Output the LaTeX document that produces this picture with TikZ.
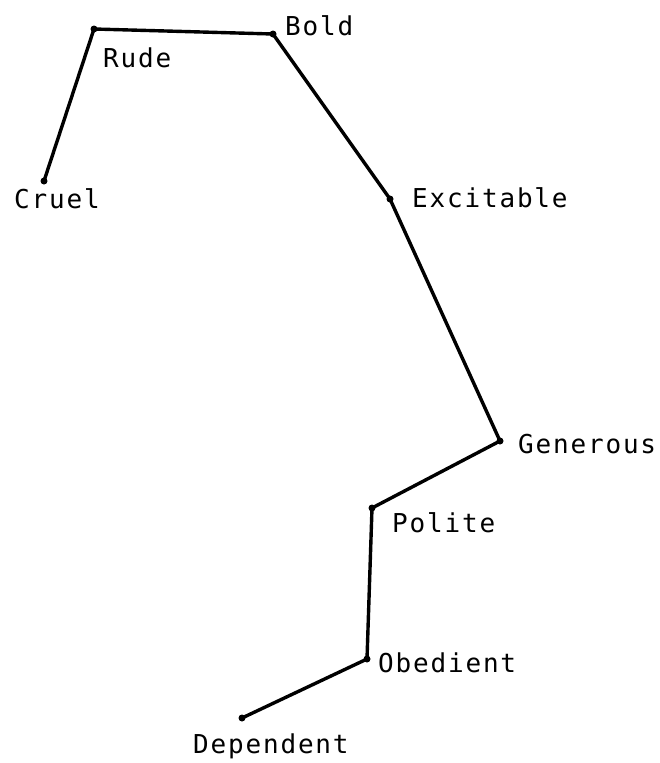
\documentclass[tikz,border=0pt]{standalone}
\usepackage{fontspec}
\newfontfamily\labfont[LetterSpace=7]{DejaVu Sans Mono}
\begin{document}
\begin{tikzpicture}[x=1pt,y=-1pt,
  pt/.style={circle,fill=black,inner sep=0pt,minimum size=7pt},
  lab/.style={anchor=base west,inner sep=0pt,font=\labfont\fontsize{26}{26}\selectfont},
  link/.style={line width=3.4pt,line join=round,line cap=round}]
\useasboundingbox[fill=white] (0,0) rectangle (660,763);
\node[pt] (cruel) at (44,181) {};
\node[pt] (rude) at (94,29) {};
\node[pt] (bold) at (273,34) {};
\node[pt] (excit) at (390,199) {};
\node[pt] (gener) at (500,441) {};
\node[pt] (polite) at (372,508) {};
\node[pt] (obed) at (367,659) {};
\node[pt] (dep) at (242,718) {};
\draw[link] (cruel.center) -- (rude.center) -- (bold.center) -- (excit.center) -- (gener.center) -- (polite.center) -- (obed.center) -- (dep.center);
\node[lab] (lcruel) at (14,208) {Cruel};
\node[lab] (lrude) at (103,67) {Rude};
\node[lab] (lbold) at (285,35) {Bold};
\node[lab] (lexcit) at (412,207) {Excitable};
\node[lab] (lgener) at (518,453) {Generous};
\node[lab] (lpolite) at (392,532) {Polite};
\node[lab] (lobed) at (378,672) {Obedient};
\node[lab] (ldep) at (193,753) {Dependent};
\end{tikzpicture}
\end{document}
